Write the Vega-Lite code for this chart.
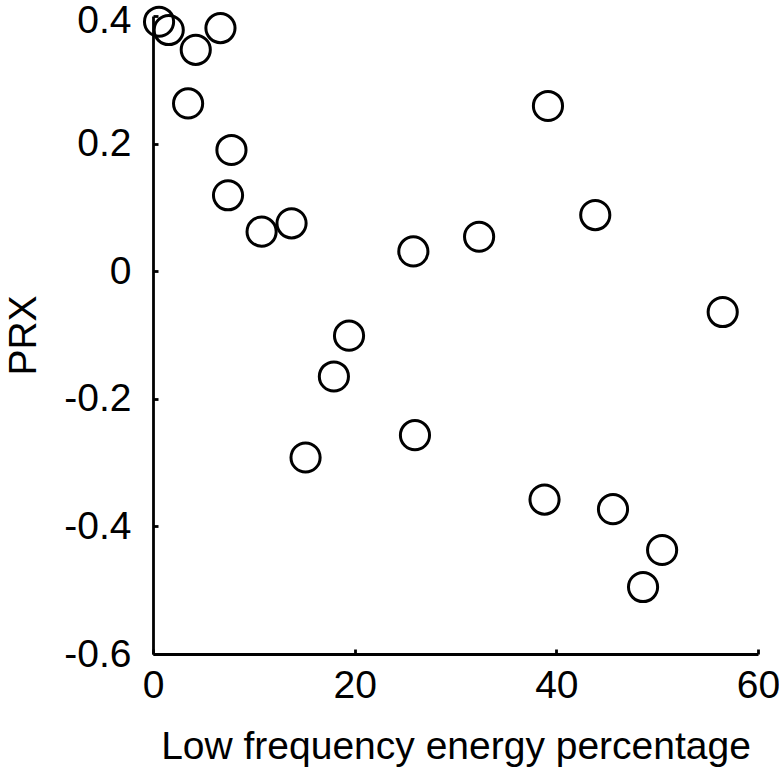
{
  "$schema": "https://vega.github.io/schema/vega-lite/v6.json",
  "autosize": "none",
  "width": 605,
  "height": 638,
  "padding": {"left": 153, "top": 16, "right": 21, "bottom": 120},
  "background": "white",
  "config": {
    "view": {"stroke": null},
    "font": "Liberation Sans",
    "axis": {
      "grid": false,
      "domainColor": "black",
      "domainWidth": 2.8,
      "tickColor": "black",
      "tickWidth": 2.8,
      "tickSize": -5,
      "labelColor": "black",
      "titleColor": "black",
      "labelFontSize": 39,
      "titleFontSize": 39,
      "labelFont": "Liberation Sans",
      "titleFont": "Liberation Sans",
      "titleFontWeight": "normal"
    }
  },
  "data": {
    "values": [
      {"lfe": 0.6, "prx": 0.391},
      {"lfe": 1.56, "prx": 0.378},
      {"lfe": 4.24, "prx": 0.347},
      {"lfe": 6.69, "prx": 0.381},
      {"lfe": 3.48, "prx": 0.263},
      {"lfe": 7.78, "prx": 0.19},
      {"lfe": 7.44, "prx": 0.119},
      {"lfe": 10.77, "prx": 0.062},
      {"lfe": 13.74, "prx": 0.075},
      {"lfe": 25.82, "prx": 0.031},
      {"lfe": 32.34, "prx": 0.054},
      {"lfe": 39.17, "prx": 0.259},
      {"lfe": 43.86, "prx": 0.088},
      {"lfe": 56.5, "prx": -0.064},
      {"lfe": 19.44, "prx": -0.101},
      {"lfe": 17.94, "prx": -0.165},
      {"lfe": 15.13, "prx": -0.292},
      {"lfe": 25.98, "prx": -0.257},
      {"lfe": 38.83, "prx": -0.358},
      {"lfe": 45.62, "prx": -0.373},
      {"lfe": 50.49, "prx": -0.437},
      {"lfe": 48.6, "prx": -0.495}
    ]
  },
  "mark": {"type": "point", "shape": "circle", "filled": false, "size": 850, "stroke": "black", "strokeWidth": 3, "opacity": 1},
  "encoding": {
    "x": {
      "field": "lfe",
      "type": "quantitative",
      "scale": {"domain": [0, 60], "nice": false, "zero": false},
      "axis": {"values": [0, 20, 40, 60], "title": "Low frequency energy percentage", "labelPadding": 17, "titlePadding": 22, "labelFlush": false}
    },
    "y": {
      "field": "prx",
      "type": "quantitative",
      "scale": {"domain": [-0.6, 0.4], "nice": false, "zero": false},
      "axis": {"values": [-0.6, -0.4, -0.2, 0, 0.2, 0.4], "labelExpr": "datum.value == 0 ? '0' : replace(format(datum.value, '.1f'), '\u2212', '-')", "title": "PRX", "labelPadding": 27, "titlePadding": 20, "labelFlush": false, "labelOffset": {"condition": {"test": "datum.value > 0.35", "value": 4}, "value": 0}}
    }
  }
}
